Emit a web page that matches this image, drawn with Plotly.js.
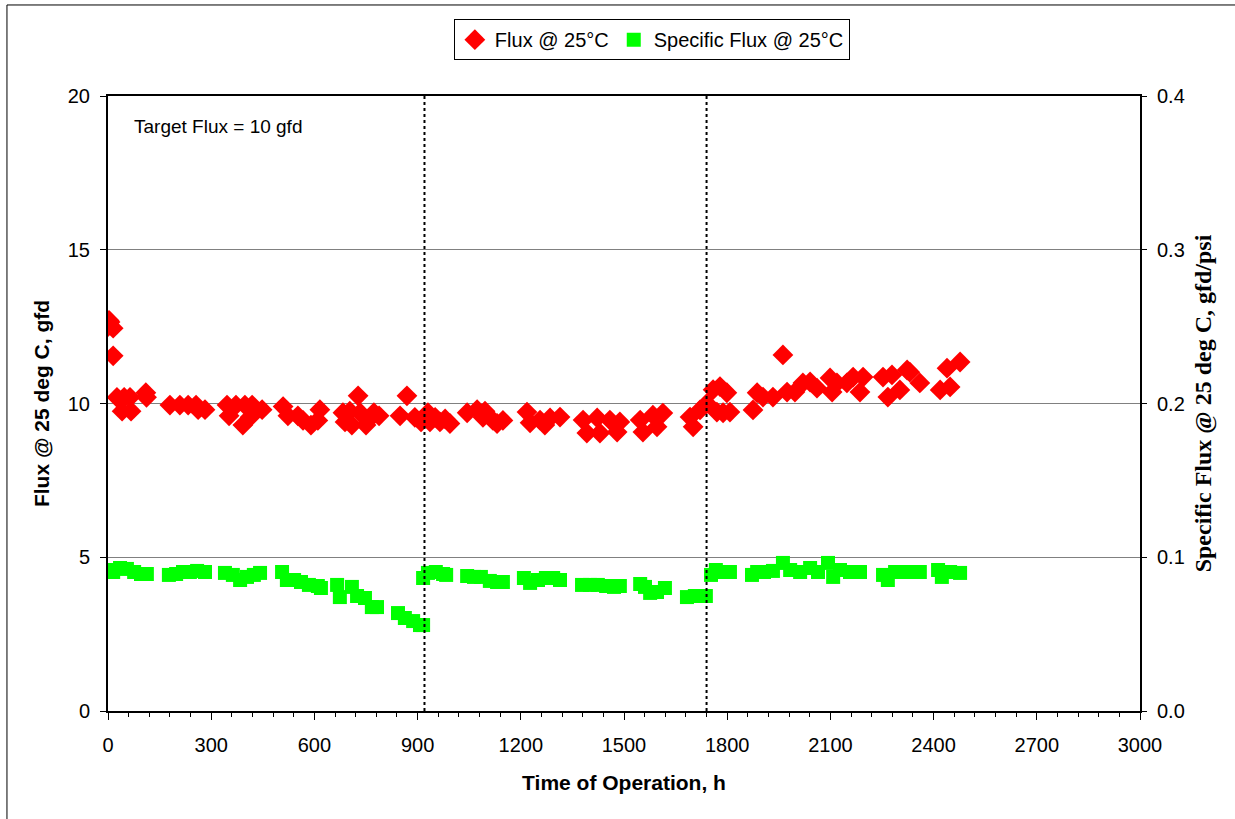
<!DOCTYPE html>
<html>
<head>
<meta charset="utf-8">
<script src="https://cdn.plot.ly/plotly-3.0.1.min.js"></script>
<style>html,body{margin:0;padding:0;background:#fff;}#chart{width:1235px;height:819px;}</style>
</head>
<body>
<div id="chart"></div>
<script>
// Flux @ 25°C (gfd) vs time of operation (h)
var fluxHours = [0, 3, 6, 15, 15, 26, 41, 47, 64, 67, 110, 112,
  180, 209, 233, 256, 262, 282, 346, 352, 372, 392, 398, 413, 419, 448,
  509, 523, 552, 567, 590, 610, 616, 683, 689, 703, 709, 727, 733, 750, 760, 773, 788,
  849, 869, 892, 910, 921, 930, 936, 951, 965, 980, 994,
  1044, 1073, 1090, 1096, 1119, 1131, 1148,
  1218, 1227, 1256, 1270, 1285, 1314,
  1381, 1392, 1422, 1430, 1459, 1480, 1488,
  1547, 1555, 1584, 1596, 1613,
  1692, 1701, 1721, 1741, 1759, 1770, 1779, 1788, 1799, 1808,
  1875, 1887, 1904, 1933, 1962, 1974, 1997, 2020, 2041, 2061,
  2099, 2105, 2119, 2148, 2166, 2186, 2195,
  2253, 2267, 2279, 2302, 2323, 2331, 2360,
  2419, 2439, 2448, 2477];
var fluxValues = [12.5, 12.7, 12.65, 12.45, 11.55, 10.2, 9.75, 10.2, 10.2, 9.75, 10.35, 10.2,
  9.95, 9.95, 9.95, 9.95, 9.8, 9.8, 9.95, 9.6, 9.95, 9.3, 9.95, 9.55, 9.95, 9.8,
  9.9, 9.6, 9.6, 9.45, 9.3, 9.45, 9.8, 9.7, 9.4, 9.75, 9.3, 10.25, 9.7, 9.3, 9.5, 9.7, 9.6,
  9.6, 10.25, 9.55, 9.4, 9.55, 9.7, 9.4, 9.55, 9.4, 9.5, 9.35,
  9.7, 9.8, 9.55, 9.75, 9.45, 9.35, 9.45,
  9.72, 9.37, 9.46, 9.3, 9.53, 9.56,
  9.46, 9.04, 9.53, 9.04, 9.46, 9.07, 9.4,
  9.46, 9.07, 9.62, 9.24, 9.69,
  9.56, 9.24, 9.79, 10.0, 10.45, 9.72, 10.55, 9.7, 10.35, 9.72,
  9.79, 10.35, 10.21, 10.21, 11.58, 10.37, 10.37, 10.67, 10.7, 10.5,
  10.83, 10.37, 10.67, 10.67, 10.86, 10.37, 10.86,
  10.86, 10.21, 10.93, 10.44, 11.09, 11.02, 10.67,
  10.44, 11.15, 10.54, 11.35];

// Specific Flux @ 25°C (gfd/psi) vs time of operation (h)
var specHours = [0, 15, 35, 55, 76, 96, 113,
  177, 198, 218, 238, 259, 282,
  340, 363, 384, 404, 424, 442,
  506, 520, 541, 561, 584, 610, 619,
  666, 674, 709, 724, 747, 767, 782,
  843, 863, 887, 907, 916,
  916, 930, 953, 974, 983,
  1044, 1064, 1084, 1110, 1131, 1148,
  1209, 1227, 1250, 1273, 1294, 1314,
  1378, 1401, 1424, 1448, 1471, 1488,
  1547, 1561, 1576, 1596, 1619,
  1683, 1706, 1738,
  1753, 1767, 1788, 1808,
  1872, 1887, 1907, 1933,
  1962, 1983, 2012, 2041, 2064, 2093, 2108, 2128, 2157, 2186,
  2253, 2267, 2288, 2317, 2337, 2360,
  2413, 2424, 2448, 2477];
var specValues = [0.0917, 0.0904, 0.0930, 0.0924, 0.0904, 0.0891, 0.0891,
  0.0885, 0.0891, 0.0904, 0.0904, 0.0911, 0.0904,
  0.0898, 0.0885, 0.0852, 0.0872, 0.0885, 0.0898,
  0.0904, 0.0852, 0.0852, 0.0839, 0.0820, 0.0813, 0.0800,
  0.0820, 0.0741, 0.0807, 0.0748, 0.0735, 0.0676, 0.0676,
  0.0637, 0.0605, 0.0585, 0.0559, 0.0559,
  0.0865, 0.0898, 0.0904, 0.0891, 0.0885,
  0.0878, 0.0872, 0.0872, 0.0846, 0.0839, 0.0839,
  0.0865, 0.0833, 0.0852, 0.0865, 0.0865, 0.0852,
  0.0820, 0.0820, 0.0820, 0.0813, 0.0807, 0.0813,
  0.0826, 0.0807, 0.0768, 0.0774, 0.0800,
  0.0741, 0.0748, 0.0748,
  0.0885, 0.0917, 0.0904, 0.0904,
  0.0885, 0.0904, 0.0904, 0.0911,
  0.0963, 0.0917, 0.0904, 0.0930, 0.0904, 0.0963, 0.0872, 0.0917, 0.0904, 0.0904,
  0.0885, 0.0852, 0.0904, 0.0904, 0.0904, 0.0904,
  0.0917, 0.0872, 0.0904, 0.0898];

var phaseBoundaries = [920, 1740];
var targetNote = 'Target Flux = 10 gfd';

var sans = 'Arial, "Liberation Sans", sans-serif';
var serif = '"Times New Roman", "Liberation Serif", serif';

var traces = [
  {x: fluxHours, y: fluxValues, type: 'scatter', mode: 'markers', name: 'Flux @ 25°C',
   marker: {symbol: 'diamond', size: 16, color: '#FF0000', line: {width: 0}}, yaxis: 'y'},
  {x: specHours, y: specValues, type: 'scatter', mode: 'markers', name: 'Specific Flux @ 25°C',
   marker: {symbol: 'square', size: 14, color: '#00FF00', line: {width: 0}}, yaxis: 'y2'}
];

var shapes = phaseBoundaries.map(function (h) {
  return {type: 'line', xref: 'x', yref: 'paper', x0: h, x1: h, y0: 0, y1: 1,
          line: {color: '#000', width: 2, dash: 'dot'}, layer: 'above'};
});
// outer chart border (top and left edges)
shapes.push({type: 'line', xref: 'paper', yref: 'paper', x0: -0.0979, x1: 1.1, y0: 1.148, y1: 1.148, line: {color: '#000', width: 1}});
shapes.push({type: 'line', xref: 'paper', yref: 'paper', x0: -0.0979, x1: -0.0979, y0: 1.148, y1: -0.2, line: {color: '#000', width: 1}});

var layout = {
  width: 1235, height: 819,
  margin: {l: 108, r: 95, t: 96, b: 108},
  paper_bgcolor: '#fff', plot_bgcolor: '#fff',
  font: {family: sans, size: 20, color: '#000'},
  showlegend: true,
  legend: {orientation: 'h', x: 0.527, xanchor: 'center', y: 1.125, yanchor: 'top',
           bordercolor: '#000', borderwidth: 1, bgcolor: '#fff',
           font: {family: sans, size: 20, color: '#000'}, itemwidth: 30, tracegroupgap: 0},
  xaxis: {
    range: [0, 3000], tickvals: [0, 300, 600, 900, 1200, 1500, 1800, 2100, 2400, 2700, 3000],
    showgrid: false, zeroline: false, showline: true, linecolor: '#000', linewidth: 2, mirror: true,
    ticks: 'outside', ticklen: 7, tickwidth: 1, tickcolor: '#000', ticklabelstandoff: 8,
    minor: {dtick: 60, ticks: 'outside', ticklen: 4, tickcolor: '#000', showgrid: false},
    tickfont: {family: sans, size: 20},
    title: {text: 'Time of Operation, h', font: {family: sans, size: 21, weight: 'bold'}, standoff: 20}
  },
  yaxis: {
    range: [0, 20], dtick: 5, showgrid: true, gridcolor: '#808080', gridwidth: 1,
    zeroline: false, showline: true, linecolor: '#000', linewidth: 2,
    ticks: 'outside', ticklen: 6, tickcolor: '#000', ticklabelstandoff: 6,
    tickfont: {family: sans, size: 20},
    title: {text: 'Flux @ 25 deg C, gfd', font: {family: sans, size: 21, weight: 'bold'}, standoff: 12}
  },
  yaxis2: {
    range: [0, 0.4], dtick: 0.1, tickformat: '.1f', overlaying: 'y', side: 'right',
    showgrid: false, zeroline: false, showline: true, linecolor: '#000', linewidth: 2,
    ticks: 'outside', ticklen: 5, tickcolor: '#000', ticklabelstandoff: 6,
    tickfont: {family: sans, size: 20},
    title: {text: 'Specific Flux @ 25 deg C, gfd/psi', font: {family: serif, size: 24, weight: 'bold'}, standoff: 10}
  },
  shapes: shapes,
  annotations: [{xref: 'paper', yref: 'paper', x: 0.0233, y: 0.9496, xanchor: 'left', yanchor: 'middle',
                 text: targetNote, showarrow: false, font: {family: sans, size: 19, color: '#000'}}]
};

Plotly.newPlot('chart', traces, layout, {displayModeBar: false, staticPlot: true});
</script>
</body>
</html>
